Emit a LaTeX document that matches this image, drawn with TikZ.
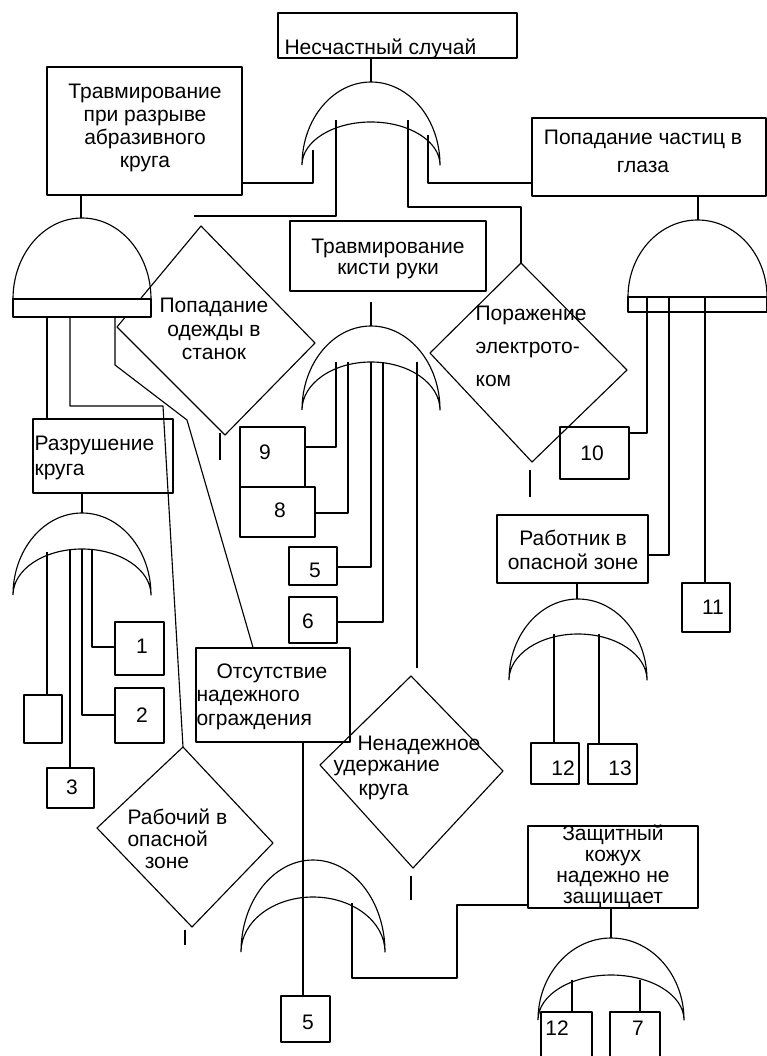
\documentclass[tikz,border=0pt]{standalone}
\usepackage{fontspec}
\setmainfont{Liberation Sans}
\usetikzlibrary{fit}
\newcommand\ORgate[6]{% name, cx, tip y, half width, outer height, inner height
  \draw (#2-#4,#3) arc[start angle=180,end angle=360,x radius=#4,y radius=#5]
        arc[start angle=0,end angle=-180,x radius=#4,y radius=#6];
  \coordinate (#1) at (#2,#3-#5);}
\newcommand\ANDgate[6]{% name, cx, base y, half width, height, band
  \draw (#2-#4,#3) arc[start angle=180,end angle=360,x radius=#4,y radius=#5];
  \draw[fill=white] (#2-#4,#3) rectangle (#2+#4,#3+#6);
  \coordinate (#1) at (#2,#3-#5);}
\newcommand\bx[3]{\node[box,fit={#2 #3}] (#1) {};}
\begin{document}
\begin{tikzpicture}[x=0.75pt,y=-0.75pt,line width=0.85pt,line join=round,
  box/.style={draw,inner sep=0pt},
  txt/.style={inner sep=0pt,font=\fontsize{15.75}{18}\selectfont},
  num/.style={inner sep=0pt,font=\fontsize{15.75}{18}\selectfont}]
\useasboundingbox (0,0) rectangle (767,1056);

% ---------- top event ----------
\bx{top}{(278,13)}{(517,58)}
\node[txt,anchor=west] (topT) at (284,49) {Несчастный случай};
\ORgate{g0}{371}{165}{69}{83}{43}
\draw (g0 |- top.south) -- (g0);

% ---------- level 1 boxes ----------
\bx{t1}{(47,67)}{(242,195)}
\node[txt,align=center,font=\fontsize{15.75}{17.25}\selectfont] (t1T) at (145,128)
  {Травмирование\\при разрыве\\абразивного\\круга};
\bx{t2}{(532,118)}{(766,196)}
\node[txt,align=center,font=\fontsize{15.75}{21}\selectfont] (t2T) at (643,151)
  {Попадание частиц в\\глаза};
\bx{t3}{(290,221)}{(486,291)}
\node[txt,align=center,font=\fontsize{15.75}{16}\selectfont] (t3T) at (388,259)
  {Травмирование\\кисти руки};

% diamonds
\coordinate (d1t) at (201,226); \coordinate (d1r) at (315,343);
\coordinate (d1b) at (225,435); \coordinate (d1l) at (117,327);
\draw (d1t) -- (d1r) -- (d1b) -- (d1l) -- cycle;
\node[txt,align=center,font=\fontsize{15.75}{17.6}\selectfont] (d1T) at (214,329)
  {Попадание\\одежды в\\станок};
\coordinate (d1in) at (194,216);
\draw (220,433) -- (220,460);

\coordinate (d2t) at (521,263); \coordinate (d2r) at (627,370);
\coordinate (d2b) at (532,462); \coordinate (d2l) at (430,353);
\draw (d2t) -- (d2r) -- (d2b) -- (d2l) -- cycle;
\node[txt,align=left,anchor=west,font=\fontsize{15.75}{24.75}\selectfont] (d2T) at (475,346)
  {Поражение\\электрото-\\ком};
\draw (530,470) -- (530,497);

% connectors from top gate
\draw (313,150) |- (t1.east |- 0,183);
\draw (336,120) |- (d1in);
\draw (408,120) |- (d2t |- 0,207) -- (d2t);
\draw (428,135) |- (t2.west |- 0,183);

% ---------- left AND gate ----------
\draw (81,195) -- (81,218);
\ANDgate{ga}{82}{299}{69}{81}{18}

\bx{r}{(33,419)}{(173,493)}
\node[txt,align=left,anchor=west,font=\fontsize{15.75}{18.75}\selectfont] (rT) at (34,457.5)
  {Разрушение\\круга};
\coordinate (d3t) at (183,747); \coordinate (d3r) at (273,843);
\coordinate (d3b) at (192,927); \coordinate (d3l) at (97,828);
\draw (d3t) -- (d3r) -- (d3b) -- (d3l) -- cycle;
\node[txt,anchor=west] (d3Ta) at (127,817) {Рабочий в};
\node[txt,anchor=west] (d3Tb) at (127,839) {опасной};
\node[txt] (d3Tc) at (167,863) {зоне};
\draw (185,930) -- (185,945);

\bx{o}{(196,648)}{(350,742)}
\node[txt] (oTa) at (272,673) {Отсутствие};
\node[txt,align=left,anchor=west,font=\fontsize{15.75}{18}\selectfont] (oTb) at (196,710)
  {надежного\\ограждения};

\draw (47,317) -- (r.north -| 47,0);
\draw (70,317) |- (163,406) -- (d3t);
\draw (115,317) -- (115,365) -- (187,420) -- (o.north -| 253,0);

% ---------- OR gate under Разрушение круга ----------
\draw (82,493) -- (82,513);
\ORgate{gr}{82}{595}{69}{82}{46}
\bx{bl}{(24,695)}{(62,743)}
\bx{b3}{(47,768)}{(94,808)}
\node[num] (b3T) at (72,787) {3};
\bx{b2}{(115,688)}{(164,743)}
\node[num] (b2T) at (142,715) {2};
\bx{b1}{(115,622)}{(164,675)}
\node[num] (b1T) at (142,646) {1};
\draw (47,552) -- (bl.north -| 47,0);
\draw (70,549) -- (b3.north -| 70,0);
\draw (82,549) |- (b2.west |- 0,715);
\draw (92,549) |- (b1.west |- 0,647);

% ---------- OR gate under Травмирование кисти руки ----------
\draw (371,302) -- (371,326);
\ORgate{gk}{371}{410}{69}{84}{48}
\bx{b9}{(240,427)}{(305,487)}
\node[num] (b9T) at (265,452) {9};
\bx{b8}{(240,487)}{(315,537)}
\node[num] (b8T) at (280,510) {8};
\bx{b5}{(289,547)}{(337,585)}
\node[num] (b5T) at (315,570) {5};
\bx{b6}{(289,597)}{(337,643)}
\node[num] (b6T) at (308,621) {6};
\draw (336,362) |- (b9.east |- 0,447);
\draw (348,362) |- (b8.east |- 0,513);
\draw (371,362) |- (b5.east |- 0,567);
\draw (383,362) |- (b6.east |- 0,622);
\coordinate (d4t) at (411,676); \coordinate (d4r) at (503,771);
\coordinate (d4b) at (413,868); \coordinate (d4l) at (320,765);
\draw (417,362) -- (417,668);
\draw (d4t) -- (d4r) -- (d4b) -- (d4l) -- cycle;
\node[txt,anchor=west] (d4Ta) at (357,745) {Ненадежное};
\node[txt,anchor=west] (d4Tb) at (333,768) {удержание};
\node[txt,anchor=west] (d4Tc) at (358,792) {круга};
\draw (411,876) -- (411,900);

% ---------- right AND gate ----------
\draw (698,196) -- (698,220);
\ANDgate{gb}{697.5}{297}{69.5}{77}{15}
\bx{b10}{(560,427)}{(629,479)}
\node[num] (b10T) at (592,453) {10};
\bx{w}{(497,515)}{(648,583)}
\node[txt,align=center,font=\fontsize{15.75}{18}\selectfont] (wT) at (573,550)
  {Работник в\\опасной зоне};
\bx{b11}{(682,583)}{(730,632)}
\node[num] (b11T) at (713,607) {11};
\draw (647,297) |- (b10.east |- 0,433);
\draw (669,297) |- (w.east |- 0,555);
\draw (705,297) -- (b11.north -| 705,0);

\draw (577,583) -- (577,599);
\ORgate{gw}{578}{680}{69}{81}{46}
\bx{b12}{(531,743)}{(579,784)}
\node[num] (b12T) at (563,768) {12};
\bx{b13}{(588,744)}{(637,784)}
\node[num] (b13T) at (620,768) {13};
\draw (554,634) -- (b12.north -| 554,0);
\draw (599,634) -- (b13.north -| 599,0);

% ---------- bottom OR gate ----------
\ORgate{go}{313}{952}{72}{92}{55}
\bx{b5b}{(281,996)}{(330,1042)}
\node[num] (b5bT) at (308,1022) {5};
\draw (o.south -| 303,0) -- (b5b.north -| 303,0);
\bx{z}{(528,826)}{(698,908)}
\node[txt,align=center,font=\fontsize{15.75}{15.75}\selectfont] (zT) at (613,866)
  {Защитный\\кожух\\надежно не\\защищает};
\draw (352,903) -- (352,978) -- (457,978) -- (457,905) -- (z.west |- 0,905);

\draw (z.south -| 611,0) -- (611,938);
\ORgate{gz}{611}{1020}{73}{82}{45}
\bx{b12b}{(541,1012)}{(592,1060)}
\node[num] (b12bT) at (557,1028) {12};
\bx{b7}{(610,1012)}{(660,1060)}
\node[num] (b7T) at (638,1028) {7};
\draw (572,980) -- (b12b.north -| 572,0);
\draw (640,980) -- (b7.north -| 640,0);
\end{tikzpicture}
\end{document}
